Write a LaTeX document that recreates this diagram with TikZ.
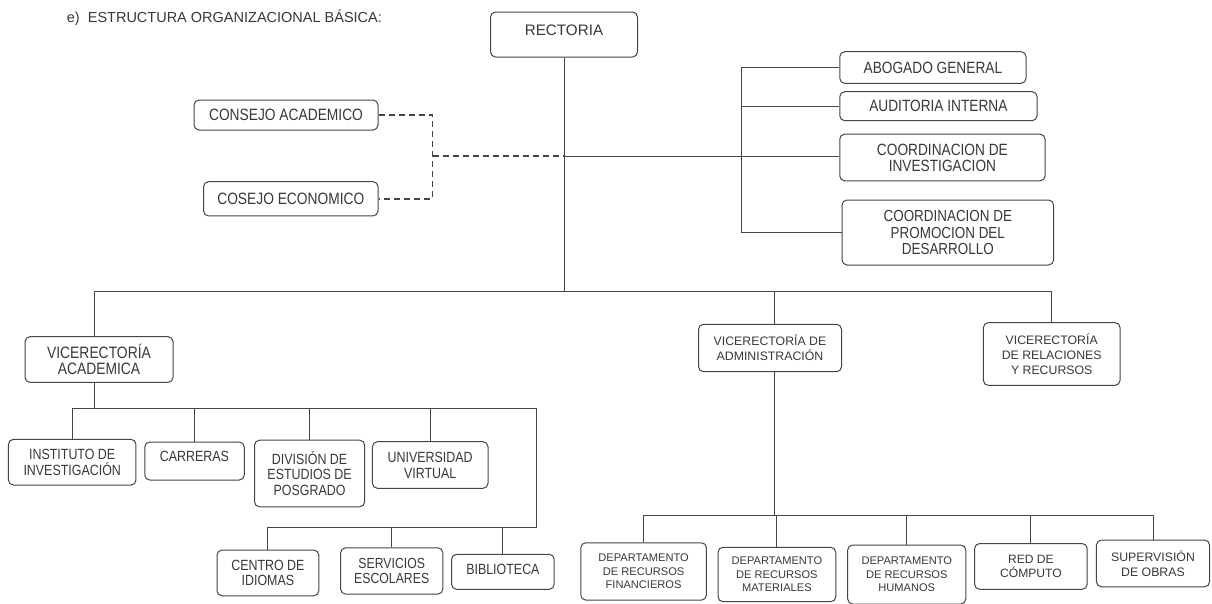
\documentclass[tikz,border=0pt]{standalone}
\usepackage{fontspec}
\setmainfont{Liberation Sans}
\newfontfamily\nar{Liberation Sans}[FakeStretch=0.84]
\definecolor{linecol}{HTML}{454545}
\definecolor{txtcol}{HTML}{383838}
\tikzset{
  box/.style={draw=linecol, line width=1pt, rounded corners=5pt, inner sep=0pt, align=center, text=txtcol},
  ln/.style={draw=linecol, line width=1pt},
  dln/.style={draw=linecol, line width=1.5pt, dash pattern=on 6pt off 4pt},
  fbig/.style={font=\fontsize{15.2pt}{17pt}\selectfont},
  ftop/.style={font=\nar\fontsize{16.3pt}{16pt}\selectfont},
  fleft/.style={font=\nar\fontsize{14.8pt}{15.4pt}\selectfont},
  fmid/.style={font=\fontsize{12.3pt}{15pt}\selectfont},
  fsmall/.style={font=\fontsize{11.1pt}{13.6pt}\selectfont}
}
\begin{document}
\begin{tikzpicture}[x=1pt,y=-1pt]
\useasboundingbox[fill=white] (0,0) rectangle (1212,603);

\node[anchor=west, text=txtcol, font=\fontsize{14.5pt}{17pt}\selectfont, inner sep=0pt] (title) at (66.7,17.3) {e)\ \ ESTRUCTURA ORGANIZACIONAL BÁSICA:};

% top level
\node[box, fbig, minimum width=147pt, minimum height=45pt, text depth=9pt] (rect) at (564,34.5) {RECTORIA};

\node[box, ftop, font=\nar\fontsize{16.4pt}{16pt}\selectfont, minimum width=184pt, minimum height=30pt] (ca) at (286,115) {CONSEJO ACADEMICO};
\node[box, ftop, font=\nar\fontsize{16.4pt}{16pt}\selectfont, minimum width=174.4pt, minimum height=34.3pt] (ce) at (290.8,198.8) {COSEJO ECONOMICO};

\node[box, ftop, minimum width=186.3pt, minimum height=31.6pt] (ag) at (932.9,67.5) {ABOGADO GENERAL};
\node[box, ftop, minimum width=197.3pt, minimum height=29pt] (ai) at (938.4,106.2) {AUDITORIA INTERNA};
\node[box, ftop, minimum width=205.3pt, minimum height=46.7pt] (ci) at (942.4,157.5) {COORDINACION DE\\INVESTIGACION};
\node[box, font=\nar\fontsize{16pt}{16.5pt}\selectfont, minimum width=211.5pt, minimum height=65pt] (cp) at (947.8,232.5) {COORDINACION DE\\PROMOCION DEL\\DESARROLLO};

% vicerectorias
\node[box, font=\nar\fontsize{16.5pt}{16.6pt}\selectfont, minimum width=148pt, minimum height=45.7pt] (va) at (99,359.5) {VICERECTORÍA\\ACADEMICA};
\node[box, fmid, minimum width=143pt, minimum height=47.4pt] (vda) at (770,348) {VICERECTORÍA DE\\ADMINISTRACIÓN};
\node[box, fmid, minimum width=136.7pt, minimum height=62.7pt] (vrr) at (1051.7,354) {VICERECTORÍA\\DE RELACIONES\\Y RECURSOS};

% academica children
\node[box, fleft, minimum width=127.5pt, minimum height=45.7pt] (ii) at (72.2,462.2) {INSTITUTO DE\\INVESTIGACIÓN};
\node[box, fleft, minimum width=99.5pt, minimum height=38pt, text depth=8.6pt] (car) at (194.5,461) {CARRERAS};
\node[box, fleft, minimum width=110.2pt, minimum height=66.6pt] (div) at (309.6,473.5) {DIVISIÓN DE\\ESTUDIOS DE\\POSGRADO};
\node[box, fleft, font=\nar\fontsize{14.8pt}{15.8pt}\selectfont, minimum width=115.6pt, minimum height=46.6pt] (uv) at (430.2,465) {UNIVERSIDAD\\VIRTUAL};
\node[box, fleft, minimum width=101.8pt, minimum height=45.7pt] (cdi) at (267.9,572.9) {CENTRO DE\\IDIOMAS};
\node[box, fleft, font=\nar\fontsize{14.6pt}{15pt}\selectfont, minimum width=102.2pt, minimum height=46.3pt] (se) at (391.7,570.9) {SERVICIOS\\ESCOLARES};
\node[box, fleft, minimum width=102.6pt, minimum height=35pt, text depth=5.5pt] (bib) at (502.9,571.8) {BIBLIOTECA};

% administracion children
\node[box, fsmall, minimum width=125.6pt, minimum height=57.3pt] (drf) at (643.6,571.4) {DEPARTAMENTO\\DE RECURSOS\\FINANCIEROS};
\node[box, fsmall, minimum width=117.7pt, minimum height=54.4pt] (drm) at (776.9,574.5) {DEPARTAMENTO\\DE RECURSOS\\MATERIALES};
\node[box, fsmall, minimum width=118.1pt, minimum height=59pt] (drh) at (906.75,574.5) {DEPARTAMENTO\\DE RECURSOS\\HUMANOS};
\node[box, font=\fontsize{12.1pt}{14.8pt}\selectfont, minimum width=112.6pt, minimum height=45.7pt] (red) at (1030.9,566.4) {RED DE\\CÓMPUTO};
\node[box, font=\fontsize{12.3pt}{14.8pt}\selectfont, minimum width=113.1pt, minimum height=46.7pt] (sup) at (1153,563.4) {SUPERVISIÓN\\DE OBRAS};

% coordinates
\coordinate (bus) at (0,291);
\coordinate (dashx) at (432.5,0);
\coordinate (midy) at (0,156);
\coordinate (brk) at (741.3,0);
\coordinate (busA) at (0,408.3);
\coordinate (busAx) at (536.5,0);
\coordinate (busB) at (0,527.3);
\coordinate (busC) at (0,515.5);
\coordinate (dVA) at (94,0);
\coordinate (dVDA) at (774,0);

% rectoria trunk and main bus
\draw[ln] (rect.south) -- (rect.south |- bus);
\draw[ln] (dVA |- va.north) -- (dVA |- bus) -- (vrr.north |- bus) -- (vrr.north);
\draw[ln] (dVDA |- bus) -- (dVDA |- vda.north);

% consejos (dashed)
\draw[dln] (ca.east) -- (ca.east -| dashx) -- (ce.east -| dashx) -- (ce.east);
\draw[dln] (dashx |- midy) -- (rect.south |- midy);
\draw[ln] (rect.south |- midy) -- (ci.west |- midy);

% staff bracket
\draw[ln] (ag.west) -- (ag.west -| brk) -- (cp.west -| brk) -- (cp.west);
\draw[ln] (ai.west -| brk) -- (ai.west);

% academica subtree
\draw[ln] (dVA |- va.south) -- (dVA |- busA);
\draw[ln] (ii.north) -- (ii.north |- busA) -- (busAx |- busA) -- (busAx |- busB) -- (cdi.north |- busB) -- (cdi.north);
\draw[ln] (car.north |- busA) -- (car.north);
\draw[ln] (div.north |- busA) -- (div.north);
\draw[ln] (uv.north |- busA) -- (uv.north);
\draw[ln] (se.north |- busB) -- (se.north);
\draw[ln] (bib.north |- busB) -- (bib.north);

% administracion subtree
\draw[ln] (dVDA |- vda.south) -- (dVDA |- busC);
\draw[ln] (drf.north) -- (drf.north |- busC) -- (sup.north |- busC) -- (sup.north);
\draw[ln] (drm.north |- busC) -- (drm.north);
\draw[ln] (drh.north |- busC) -- (drh.north);
\draw[ln] (red.north |- busC) -- (red.north);
\end{tikzpicture}
\end{document}
